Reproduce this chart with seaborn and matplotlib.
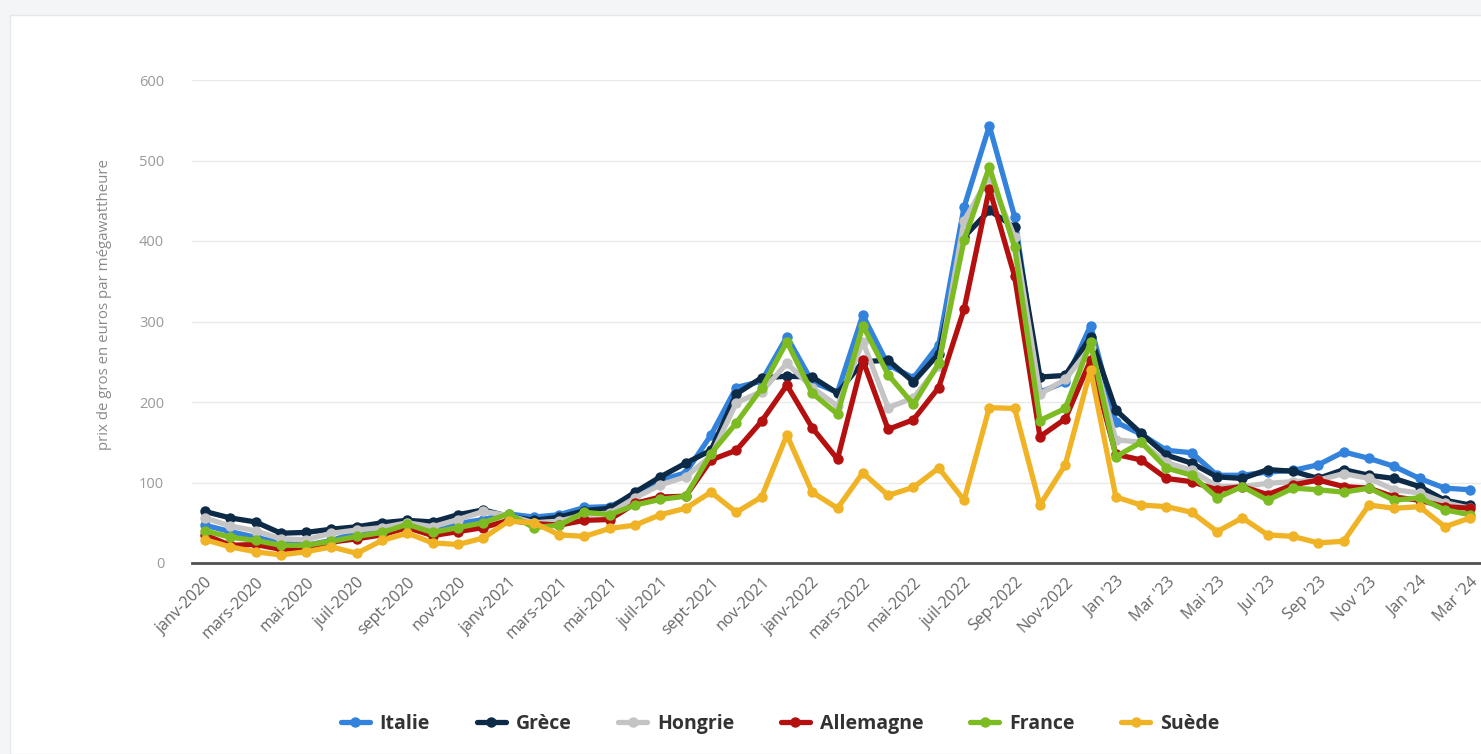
import numpy as np
import pandas as pd
import matplotlib
matplotlib.use("Agg")
import matplotlib.pyplot as plt
from matplotlib.patches import Rectangle
from matplotlib.lines import Line2D
import seaborn as sns

# mois janv-2020 .. mars-2024 (51 mois)
n_mois = 51
tick_labels = ["janv-2020", "mars-2020", "mai-2020", "juil-2020", "sept-2020", "nov-2020",
               "janv-2021", "mars-2021", "mai-2021", "juil-2021", "sept-2021", "nov-2021",
               "janv-2022", "mars-2022", "mai-2022", "juil-2022", "Sep-2022", "Nov-2022",
               "Jan '23", "Mar '23", "Mai '23", "Jul '23", "Sep '23", "Nov '23",
               "Jan '24", "Mar '24"]

pays = ["Italie", "Grèce", "Hongrie", "Allemagne", "France", "Suède"]

italie = [47, 39, 32, 25, 22, 28, 38, 40, 49, 44, 49, 54,
          61, 57, 60, 69, 70, 85, 103, 112, 159, 218, 226, 281,
          225, 212, 308, 246, 230, 271, 442, 543, 430, 212, 225, 295,
          175, 160, 140, 137, 109, 109, 113, 115, 122, 138, 130, 120,
          105, 93, 91]
grece = [64, 56, 51, 37, 38, 42, 45, 50, 53, 51, 60, 66,
         58, 53, 57, 65, 68, 88, 107, 124, 140, 210, 230, 232,
         231, 211, 250, 252, 225, 260, 405, 438, 417, 231, 233, 281,
         190, 161, 134, 124, 107, 105, 116, 114, 105, 116, 109, 105,
         95, 78, 72]
hongrie = [56, 46, 40, 30, 29, 37, 41, 44, 50, 45, 54, 64,
           59, 50, 52, 60, 62, 81, 97, 107, 133, 199, 213, 248,
           218, 195, 275, 193, 205, 245, 425, 480, 405, 210, 228, 268,
           153, 150, 125, 115, 95, 95, 99, 101, 103, 111, 105, 91,
           87, 75, 68]
allemagne = [35, 22, 23, 17, 18, 26, 30, 35, 44, 34, 39, 44,
             53, 49, 47, 53, 54, 74, 82, 83, 128, 140, 176, 221,
             168, 129, 252, 166, 178, 218, 315, 465, 356, 157, 179, 252,
             135, 128, 105, 101, 91, 95, 85, 97, 103, 95, 93, 82,
             78, 70, 68]
france = [40, 32, 28, 22, 22, 27, 33, 38, 48, 38, 44, 50,
          61, 44, 47, 63, 60, 72, 79, 83, 136, 174, 217, 275,
          211, 185, 295, 234, 197, 248, 401, 492, 392, 177, 192, 274,
          132, 150, 118, 109, 81, 95, 78, 93, 91, 88, 93, 78,
          81, 66, 60]
suede = [29, 20, 14, 10, 14, 20, 12, 28, 37, 25, 23, 31,
         52, 50, 35, 33, 43, 47, 60, 68, 88, 63, 82, 159,
         88, 68, 112, 84, 94, 118, 78, 193, 192, 72, 122, 240,
         82, 72, 70, 63, 39, 56, 35, 33, 25, 27, 72, 68,
         70, 45, 56]

couleurs = ["#3383dd", "#0d2a47", "#c4c4c4", "#b3100f", "#7dbb22", "#f0b325"]

df = pd.DataFrame({
    "mois": np.tile(np.arange(n_mois), len(pays)),
    "pays": np.repeat(pays, n_mois),
    "prix": italie + grece + hongrie + allemagne + france + suede,
})

sns.set_theme(style="white")
plt.rcParams["font.family"] = ["Open Sans", "DejaVu Sans"]

fig = plt.figure(figsize=(14.81, 7.54), dpi=100, facecolor="#f4f5f6")
# carte blanche derrière le graphique
fig.patches.append(Rectangle((10 / 1481, 0), 1, (754 - 15) / 754,
                             transform=fig.transFigure, facecolor="white",
                             edgecolor="#e8e8e8", lw=1, zorder=-10))

ax = fig.add_axes([192 / 1481, (754 - 563) / 754, (1481 - 192) / 1481, (563 - 80) / 754])
ax.set_zorder(1)
ax.set_facecolor("white")

sns.lineplot(data=df, x="mois", y="prix", hue="pays", hue_order=pays,
             palette=couleurs, marker="o", markersize=7.5, markeredgewidth=0,
             linewidth=3.8, legend=False, ax=ax, zorder=3)

ax.set_xlim(-0.51, 50.43)
ax.set_ylim(0, 600)
ax.set_yticks(range(0, 700, 100))
ax.yaxis.grid(True, color="#e9e9e9", lw=1)
ax.xaxis.grid(False)
for s in ["top", "right", "left"]:
    ax.spines[s].set_visible(False)
ax.spines["bottom"].set_color("#505050")
ax.spines["bottom"].set_linewidth(2)
ax.spines["bottom"].set_zorder(4)

ax.set_xticks(range(0, n_mois, 2))
ax.set_xticklabels(tick_labels, rotation=45, ha="right", rotation_mode="anchor",
                   fontsize=11.5, color="#666666")
ax.tick_params(axis="x", length=0, pad=8)
ax.tick_params(axis="y", length=0, pad=20, labelsize=10.5, labelcolor="#9a9a9a")

ax.set_xlabel("")
ax.set_ylabel("prix de gros en euros par mégawattheure", fontsize=10.8, color="#8a8a8a")
ax.yaxis.set_label_coords((112 - 192) / 1289, (563 - 305) / 483)

handles = [Line2D([0], [0], color=c, lw=3.8, marker="o", markersize=7.5,
                  markeredgewidth=0) for c in couleurs]
leg = fig.legend(handles, pays, loc="center", bbox_to_anchor=(780 / 1481, 1 - 724 / 754),
                 ncol=6, frameon=False, fontsize=14, handlelength=1.5,
                 columnspacing=2.4, handletextpad=0.5)
for t in leg.get_texts():
    t.set_color("#333333")
    t.set_fontweight("bold")

fig.savefig("out.png", dpi=100, facecolor=fig.get_facecolor())
